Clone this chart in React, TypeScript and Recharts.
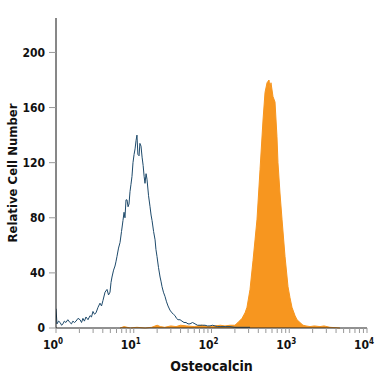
import { ComposedChart, Area, Line, XAxis, YAxis } from "recharts";

// isotype control (blue outline): fluorescence intensity, relative cell count
const controlIntensity = [
  1.0, 1.03, 1.08, 1.13, 1.18, 1.23, 1.28, 1.34, 1.42, 1.51, 1.58, 1.65, 1.73,
  1.81, 1.92, 2.04, 2.13, 2.22, 2.32, 2.43, 2.58, 2.74, 2.86, 2.99, 3.13, 3.27,
  3.47, 3.68, 3.85, 4.02, 4.27, 4.53, 4.74, 4.95, 5.1, 5.25, 5.5, 5.74, 5.9,
  6.09, 6.37, 6.66, 6.96, 7.27, 7.5, 7.71, 7.95, 8.19, 8.45, 8.69, 8.95, 9.2,
  9.49, 9.78, 10.1, 10.4, 10.7, 11.0, 11.3, 11.7, 12.0, 12.4, 12.8, 13.2, 13.6,
  13.95, 14.4, 14.8, 15.5, 16.2, 16.7, 17.2, 18.0, 18.8, 19.3, 19.9, 20.8,
  21.8, 22.4, 23.1, 24.1, 25.2, 26.4, 27.6, 29.2, 31.0, 32.4, 33.9, 35.5, 37.1,
  39.4, 41.7, 44.3, 47.0, 49.9, 52.9, 57.0, 61.4, 66.1, 71.2, 76.6, 82.5, 88.9,
  95.7, 103, 111, 120, 129, 150, 173, 200, 233, 270, 313,
];
const controlCount = [
  14, 3, 5, 4, 2, 3, 5, 4, 6, 4, 3, 5, 4, 5, 7, 6, 4, 7, 5, 8, 6, 9, 8, 12, 10,
  11, 15, 18, 16, 20, 26, 28, 24, 26, 33, 37, 42, 45, 48, 52, 58, 62, 70, 78,
  84, 80, 93, 93, 88, 90, 99, 104, 110, 120, 126, 130, 136, 140, 126, 125, 134,
  132, 124, 118, 110, 105, 112, 108, 96, 88, 82, 78, 70, 64, 57, 52, 44, 37, 34,
  30, 26, 23, 19, 16, 13, 11, 10, 9, 7, 6, 6, 5, 4, 4, 3, 3, 4, 3, 2, 2, 2, 2,
  1.5, 1.5, 2, 1.5, 1, 1, 1, 1, 0.5, 0.5, 0.5, 0.5,
];

// Osteocalcin stained cells (orange filled)
const stainedIntensity = [
  6.66, 7.5, 9, 11, 14, 17, 20, 22, 25, 30, 35, 40, 48, 60, 75, 90, 110, 130,
  149, 173, 200, 219, 247, 270, 286, 313, 342, 363, 385, 421, 460, 488, 518,
  549, 565, 582, 618, 656, 695, 716, 760, 807, 882, 964, 1022, 1084, 1186, 1258,
  1374, 1503, 1642, 1849, 2100, 2485, 2800, 3341, 4495,
];
const stainedCount = [
  0, 1, 0, 0.5, 0, 0.5, 2, 1, 0.5, 1.5, 1, 2, 1.5, 1, 2, 1, 1.5, 2, 1.5, 2, 2,
  4, 7, 11, 15, 28, 49, 64, 79, 115, 151, 171, 178, 180, 174, 178, 168, 164,
  139, 120, 98, 79, 52, 30, 22, 15, 9, 6, 4, 2, 1.5, 1, 1.5, 1, 1.5, 0.5, 0,
];

const yTicks = [0, 40, 80, 120, 160, 200];
const xMajorTicks = [1, 10, 100, 1000, 10000];
const xMinorSteps = [2, 3, 4, 5, 6, 7, 8, 9];
const xTickExponents = ["0", "1", "2", "3", "4"];

const controlData = controlIntensity.map((x, i) => ({ x, y: controlCount[i] }));
const stainedData = stainedIntensity.map((x, i) => ({ x, y: stainedCount[i] }));

const xTicks: number[] = [];
xMajorTicks.forEach((t, i) => {
  xTicks.push(t);
  if (i < xMajorTicks.length - 1) xMinorSteps.forEach((s) => xTicks.push(s * t));
});

const font = "'DejaVu Sans Condensed', 'Liberation Sans Narrow', Arial, sans-serif";

function XTick(props: any) {
  const { x, y, payload } = props;
  const idx = xMajorTicks.indexOf(payload.value);
  if (idx < 0) return <g />;
  // shift left a bit so "10" plus the exponent sits centred on the tick
  return (
    <text
      x={x - 3}
      y={y + 14}
      textAnchor="middle"
      fontFamily={font}
      fontWeight="bold"
      fontSize={12}
      fill="#111"
    >
      <tspan>10</tspan>
      <tspan dy={-5} fontSize={8}>
        {xTickExponents[idx]}
      </tspan>
    </text>
  );
}

export default function App() {
  return (
    <div style={{ position: "absolute", left: 0, top: 0, background: "#fff" }}>
      <ComposedChart
        width={375}
        height={375}
        margin={{ top: 18, right: 8, left: 0, bottom: 0 }}
      >
        <XAxis
          dataKey="x"
          type="number"
          scale="log"
          domain={[1, 10000]}
          ticks={xTicks}
          interval={0}
          allowDataOverflow
          height={47}
          tick={<XTick />}
          tickSize={5}
          tickLine={{ stroke: "#999" }}
          axisLine={{ stroke: "#222" }}
          label={{
            value: "Osteocalcin",
            position: "insideBottom",
            offset: 4,
            style: {
              fontFamily: font,
              fontWeight: "bold",
              fontSize: 14,
              fill: "#111",
            },
          }}
        />
        <YAxis
          type="number"
          domain={[0, 225]}
          ticks={yTicks}
          width={56}
          tickSize={7}
          tickMargin={4}
          tickLine={{ stroke: "#999" }}
          axisLine={{ stroke: "#111" }}
          tick={{
            fontFamily: font,
            fontWeight: "bold",
            fontSize: 12,
            fill: "#111",
          }}
          label={{
            value: "Relative Cell Number",
            angle: -90,
            position: "insideLeft",
            offset: 12,
            style: {
              textAnchor: "middle",
              fontFamily: font,
              fontWeight: "bold",
              fontSize: 13,
              fill: "#111",
            },
          }}
        />
        <Area
          data={stainedData}
          dataKey="y"
          type="linear"
          stroke="#f7961f"
          strokeWidth={1}
          fill="#f7961f"
          fillOpacity={1}
          isAnimationActive={false}
        />
        <Line
          data={controlData}
          dataKey="y"
          type="linear"
          stroke="#1e4a6b"
          strokeWidth={1}
          dot={false}
          isAnimationActive={false}
        />
      </ComposedChart>
    </div>
  );
}
